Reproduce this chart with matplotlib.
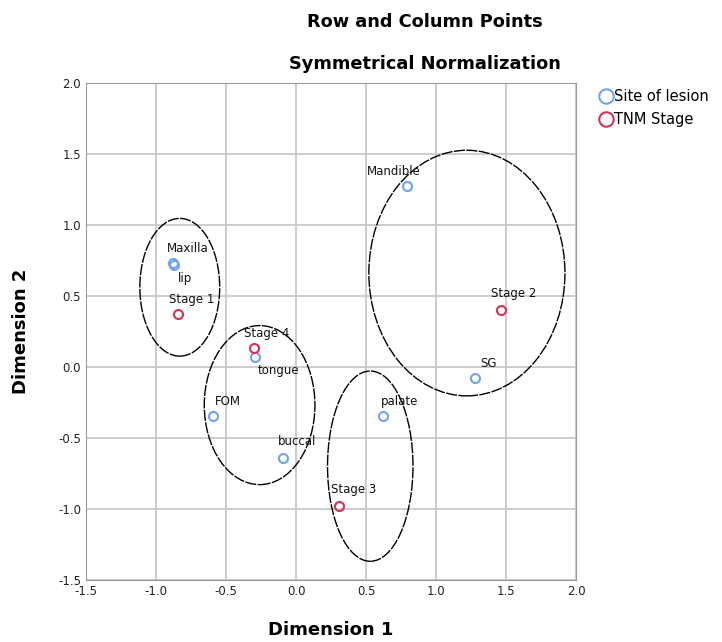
import matplotlib.pyplot as plt
from matplotlib.patches import Ellipse

# row points (site of lesion)
site_labels = ["Maxilla", "lip", "FOM", "tongue", "buccal", "Mandible", "palate", "SG"]
site_x = [-0.88, -0.87, -0.59, -0.29, -0.09, 0.79, 0.62, 1.28]
site_y = [0.73, 0.72, -0.35, 0.07, -0.64, 1.27, -0.35, -0.08]

# column points (TNM stage)
stage_labels = ["Stage 1", "Stage 2", "Stage 3", "Stage 4"]
stage_x = [-0.84, 1.46, 0.31, -0.30]
stage_y = [0.37, 0.40, -0.98, 0.13]

# ellipses drawn around groups: center x, center y, width, height
ell_cx = [-0.83, -0.26, 1.22, 0.53]
ell_cy = [0.56, -0.27, 0.66, -0.70]
ell_w = [0.57, 0.79, 1.40, 0.61]
ell_h = [0.97, 1.12, 1.73, 1.34]

# label offsets in pixels (left edge, vertical center)
site_off = [(-6, 15), (4, -14), (1, 15), (2, -14), (-6, 16), (-40, 15), (-2, 15), (5, 15)]
stage_off = [(-9, 15), (-10, 16), (-8, 16), (-10, 15)]

blue = "#6fa4ec"
red = "#dc2f55"

fig = plt.figure(figsize=(7.22, 6.42), dpi=100)
ax = fig.add_axes([0.119, 0.097, 0.679, 0.774])

ax.set_xlim(-1.5, 2.0)
ax.set_ylim(-1.5, 2.0)
ticks = [-1.5, -1.0, -0.5, 0.0, 0.5, 1.0, 1.5, 2.0]
ax.set_xticks(ticks)
ax.set_yticks(ticks)
ax.set_xticklabels([f"{t:.1f}" for t in ticks])
ax.set_yticklabels([f"{t:.1f}" for t in ticks])
ax.tick_params(length=0, labelsize=8.5, colors="#222222")
ax.grid(True, color="#c8c8c8", linewidth=1.3)
ax.set_axisbelow(True)
for s in ax.spines.values():
    s.set_color("#9a9a9a")

for cx, cy, w, h in zip(ell_cx, ell_cy, ell_w, ell_h):
    ax.add_patch(Ellipse((cx, cy), w, h, fill=False, edgecolor="black",
                         linewidth=1.0, linestyle=(0, (8, 1))))

ax.plot(site_x, site_y, "o", markersize=6.5, markerfacecolor="none",
        markeredgecolor=blue, markeredgewidth=1.5, label="Site of lesion")
ax.plot(stage_x, stage_y, "o", markersize=6.5, markerfacecolor="none",
        markeredgecolor=red, markeredgewidth=1.5, label="TNM Stage")

for lab, x, y, off in zip(site_labels, site_x, site_y, site_off):
    ax.annotate(lab, (x, y), xytext=off, textcoords="offset pixels",
                ha="left", va="center", fontsize=8.5, color="#111111")
for lab, x, y, off in zip(stage_labels, stage_x, stage_y, stage_off):
    ax.annotate(lab, (x, y), xytext=off, textcoords="offset pixels",
                ha="left", va="center", fontsize=8.5, color="#111111")

ax.set_xlabel("Dimension 1", fontsize=13, fontweight="bold", labelpad=17)
ax.set_ylabel("Dimension 2", fontsize=13, fontweight="bold", labelpad=20)

fig.text(425 / 722, 1 - 22 / 642, "Row and Column Points", ha="center", va="center",
         fontsize=12.8, fontweight="bold")
fig.text(425 / 722, 1 - 64 / 642, "Symmetrical Normalization", ha="center", va="center",
         fontsize=12.8, fontweight="bold")

ax.legend(loc="upper left", bbox_to_anchor=(1.035, 1.0), frameon=False,
          fontsize=10.5, handletextpad=0.05, handlelength=1.0, borderaxespad=0,
          labelspacing=0.55, markerscale=1.6)

fig.savefig("out.png", dpi=100)
